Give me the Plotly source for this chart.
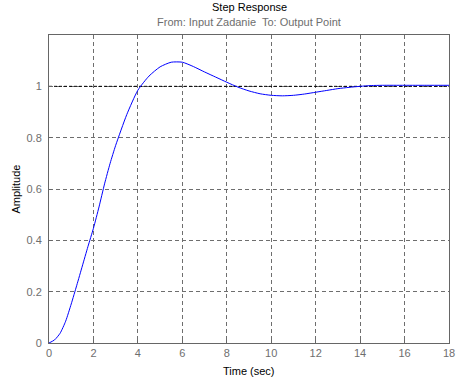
import plotly.graph_objects as go

time_s = [0, 0.25, 0.5, 0.75, 1, 1.25, 1.5, 1.75, 2, 2.25, 2.5, 2.75, 3, 3.5,
          4, 4.5, 5, 5.5, 6, 6.5, 7, 7.5, 8, 8.5, 9, 9.5, 10, 10.5, 11, 11.5,
          12, 12.5, 13, 13.5, 14, 14.5, 15, 16, 17, 18]
amplitude = [0, 0.012, 0.038, 0.085, 0.152, 0.225, 0.30, 0.375, 0.447, 0.53,
             0.62, 0.70, 0.77, 0.89, 0.985, 1.04, 1.076, 1.094, 1.094, 1.077,
             1.056, 1.036, 1.016, 0.997, 0.982, 0.971, 0.965, 0.963, 0.965,
             0.970, 0.977, 0.984, 0.991, 0.996, 1.0, 1.003, 1.004, 1.004,
             1.004, 1.004]
steady_state = 1.0
x_ticks = [0, 2, 4, 6, 8, 10, 12, 14, 16, 18]
y_ticks = [0, 0.2, 0.4, 0.6, 0.8, 1]
y_tick_labels = ["0", "0.2", "0.4", "0.6", "0.8", "1"]

FONT = "Liberation Sans, Arial, sans-serif"
GRID = "#6e6e6e"
TICKC = "#6e6e6e"

fig = go.Figure()
fig.add_trace(go.Scatter(x=[time_s[0], time_s[-1]], y=[steady_state, steady_state],
                         mode="lines", line=dict(color="black", width=1, dash="3px,2px"),
                         hoverinfo="skip", showlegend=False))
fig.add_trace(go.Scatter(x=time_s, y=amplitude, mode="lines",
                         line=dict(color="#0000ff", width=1, shape="spline", smoothing=0.6),
                         showlegend=False))

fig.update_layout(
    width=461, height=377,
    margin=dict(l=49, r=6, t=35, b=34, pad=0),
    paper_bgcolor="white", plot_bgcolor="white",
    font=dict(family=FONT, size=11, color="black"),
    showlegend=False,
    xaxis=dict(range=[0, 18], tickvals=x_ticks, ticktext=[str(v) for v in x_ticks],
               showgrid=True, gridcolor=GRID, griddash="4px,3px", gridwidth=1,
               showline=True, linecolor="#666666", linewidth=1, mirror=True,
               ticks="inside", ticklen=3, tickcolor="#666666",
               tickfont=dict(color=TICKC, size=11, family=FONT),
               ticklabeloverflow="allow",
               zeroline=False, fixedrange=True),
    yaxis=dict(range=[0, 1.2], tickvals=y_ticks, ticktext=y_tick_labels,
               showgrid=True, gridcolor=GRID, griddash="4px,3px", gridwidth=1,
               showline=True, linecolor="#666666", linewidth=1, mirror=True,
               ticks="inside", ticklen=3, tickcolor="#666666",
               tickfont=dict(color=TICKC, size=11, family=FONT),
               ticklabelstandoff=4, ticklabeloverflow="allow",
               zeroline=False, fixedrange=True),
    annotations=[
        dict(text="Step Response", x=0.5, y=1 + (35 - 7) / 308, xref="paper", yref="paper",
             showarrow=False, xanchor="center", yanchor="middle",
             font=dict(size=11, color="black", family=FONT)),
        dict(text="From: Input Zadanie  To: Output Point", x=0.5, y=1 + (35 - 22) / 308,
             xref="paper", yref="paper", showarrow=False, xanchor="center", yanchor="middle",
             font=dict(size=11, color="#6e6e6e", family=FONT)),
        dict(text="Time (sec)", x=0.5, y=(343 - 371) / 308, xref="paper", yref="paper",
             showarrow=False, xanchor="center", yanchor="middle",
             font=dict(size=11, color="black", family=FONT)),
        dict(text="Amplitude", x=(15 - 49) / 406, y=0.5, xref="paper", yref="paper",
             showarrow=False, xanchor="center", yanchor="middle", textangle=-90,
             font=dict(size=11, color="black", family=FONT)),
    ],
)

fig.write_html("out.html", config={"displayModeBar": False},
               post_script="document.body.style.margin='0';document.body.style.overflow='hidden';")
